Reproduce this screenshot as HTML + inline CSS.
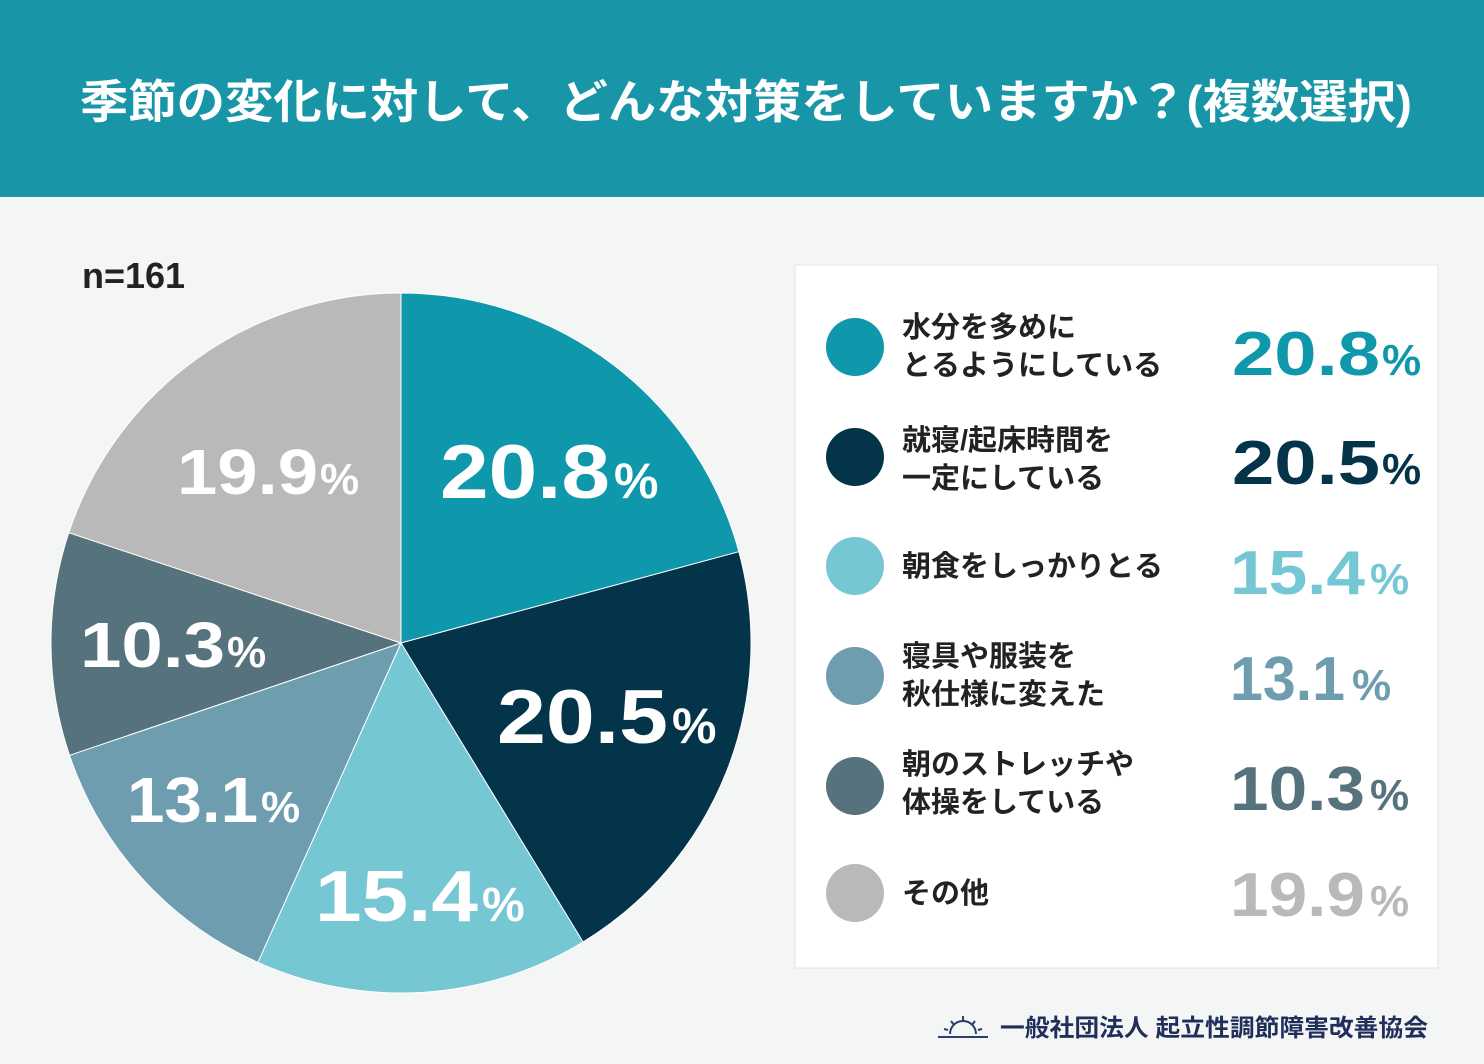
<!DOCTYPE html>
<html><head><meta charset="utf-8"><style>
html,body{margin:0;padding:0;}
body{width:1484px;height:1064px;overflow:hidden;background:#f3f4f4;font-family:"Liberation Sans","Noto Sans CJK JP",sans-serif;}
</style></head><body>
<svg width="1484" height="1064" xmlns="http://www.w3.org/2000/svg" style="display:block;font-family:'Liberation Sans','Noto Sans CJK JP',sans-serif;font-weight:bold">
<rect x="0" y="0" width="1484" height="1064" fill="#f4f5f5"/>
<rect x="0" y="0" width="1484" height="197" fill="#1995a8"/>
<text x="80" y="118" fill="#fff" font-size="46" textLength="1332" lengthAdjust="spacingAndGlyphs">季節の変化に対して、どんな対策をしていますか？(複数選択)</text>
<text x="82" y="288" fill="#222" font-size="36">n=161</text>
<g stroke="#fff" stroke-width="1">
<path d="M401 643 L401 293 A350 350 0 0 1 738.9 551.7 Z" fill="#0f97ab"/>
<path d="M401 643 L738.9 551.7 A350 350 0 0 1 583 942 Z" fill="#04344a"/>
<path d="M401 643 L583 942 A350 350 0 0 1 257.9 962.4 Z" fill="#75c7d3"/>
<path d="M401 643 L257.9 962.4 A350 350 0 0 1 69.5 755.3 Z" fill="#6f9db0"/>
<path d="M401 643 L69.5 755.3 A350 350 0 0 1 68.8 532.7 Z" fill="#56727c"/>
<path d="M401 643 L68.8 532.7 A350 350 0 0 1 401 293 Z" fill="#b9b9b9"/>
</g>
<g fill="#fff">
<text x="440" y="498" font-size="76" textLength="170" lengthAdjust="spacingAndGlyphs">20.8</text><text x="614" y="498" font-size="50">%</text>
<text x="177" y="494" font-size="64" textLength="141" lengthAdjust="spacingAndGlyphs">19.9</text><text x="320" y="494" font-size="44">%</text>
<text x="497" y="743" font-size="76" textLength="171" lengthAdjust="spacingAndGlyphs">20.5</text><text x="672" y="743" font-size="50">%</text>
<text x="80" y="667" font-size="64" textLength="145" lengthAdjust="spacingAndGlyphs">10.3</text><text x="227" y="667" font-size="44">%</text>
<text x="127" y="822" font-size="64" textLength="131" lengthAdjust="spacingAndGlyphs">13.1</text><text x="261" y="822" font-size="44">%</text>
<text x="315" y="921" font-size="72" textLength="163" lengthAdjust="spacingAndGlyphs">15.4</text><text x="482" y="921" font-size="48">%</text>
</g>
<rect x="795" y="265" width="643" height="703" fill="#fff" stroke="#e4e4e4" stroke-width="1"/>
<g font-size="29" fill="#222">
<circle cx="855" cy="347" r="29" fill="#0f97ab"/>
<text x="902" y="337">水分を多めに</text><text x="902" y="375">とるようにしている</text>
<circle cx="855" cy="457" r="29" fill="#04344a"/>
<text x="902" y="450">就寝/起床時間を</text><text x="902" y="488">一定にしている</text>
<circle cx="855" cy="566" r="29" fill="#75c7d3"/>
<text x="902" y="576">朝食をしっかりとる</text>
<circle cx="855" cy="676" r="29" fill="#6f9db0"/>
<text x="902" y="666">寝具や服装を</text><text x="902" y="704">秋仕様に変えた</text>
<circle cx="855" cy="786" r="29" fill="#56727c"/>
<text x="902" y="774">朝のストレッチや</text><text x="902" y="812">体操をしている</text>
<circle cx="855" cy="893" r="29" fill="#b9b9b9"/>
<text x="902" y="903">その他</text>
</g>
<g>
<text x="1232" y="375" font-size="62" fill="#0f97ab" textLength="148" lengthAdjust="spacingAndGlyphs">20.8</text><text x="1382" y="375" font-size="44" fill="#0f97ab">%</text>
<text x="1232" y="484" font-size="62" fill="#04344a" textLength="148" lengthAdjust="spacingAndGlyphs">20.5</text><text x="1382" y="484" font-size="44" fill="#04344a">%</text>
<text x="1230" y="594" font-size="62" fill="#75c7d3" textLength="135" lengthAdjust="spacingAndGlyphs">15.4</text><text x="1370" y="594" font-size="44" fill="#75c7d3">%</text>
<text x="1230" y="700" font-size="62" fill="#6f9db0" textLength="115" lengthAdjust="spacingAndGlyphs">13.1</text><text x="1352" y="700" font-size="44" fill="#6f9db0">%</text>
<text x="1230" y="810" font-size="62" fill="#56727c" textLength="135" lengthAdjust="spacingAndGlyphs">10.3</text><text x="1370" y="810" font-size="44" fill="#56727c">%</text>
<text x="1230" y="916" font-size="62" fill="#b9b9b9" textLength="135" lengthAdjust="spacingAndGlyphs">19.9</text><text x="1370" y="916" font-size="44" fill="#b9b9b9">%</text>
</g>
<g stroke="#2b3f6b" stroke-width="2" fill="none">
<line x1="938" y1="1037" x2="988" y2="1037"/>
<path d="M950 1034 A13 13 0 0 1 976 1034"/>
<path d="M963 1016 L963 1021 M951 1021 L954 1025 M975 1021 L972 1025 M944 1029 L948 1030 M982 1029 L978 1030"/>
</g>
<text x="1000" y="1036" font-size="24" fill="#1f2f5a" textLength="428" lengthAdjust="spacingAndGlyphs">一般社団法人 起立性調節障害改善協会</text>
</svg>
</body></html>
